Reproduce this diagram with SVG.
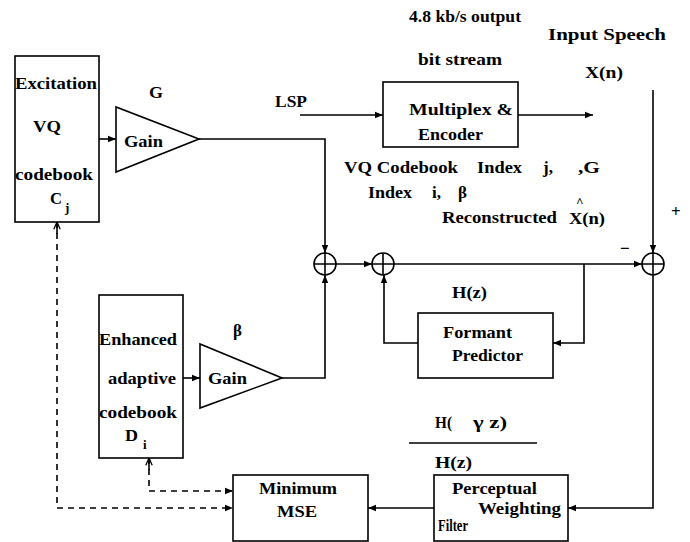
<svg xmlns="http://www.w3.org/2000/svg" width="690" height="542" viewBox="0 0 690 542">
<style>
text{font-family:"Liberation Serif","Times New Roman",serif;font-weight:bold;font-size:17px;fill:#000}
.sub{font-size:13px}
.hat{font-size:13px}
.box{fill:#fff;stroke:#000;stroke-width:1.6}
.ln{fill:none;stroke:#000;stroke-width:1.6}
.dash{fill:none;stroke:#000;stroke-width:1.6;stroke-dasharray:6,5}
</style>
<defs>
<marker id="arr" viewBox="0 0 10 10" refX="10" refY="5" markerWidth="8" markerHeight="8" markerUnits="userSpaceOnUse" orient="auto">
<path d="M0,1 L10,5 L0,9 z" fill="#000"/>
</marker>
<marker id="open" viewBox="0 0 10 10" refX="10" refY="5" markerWidth="8" markerHeight="8" markerUnits="userSpaceOnUse" orient="auto">
<path d="M1,1 L10,5 L1,9" fill="none" stroke="#000" stroke-width="1.6"/>
</marker>
</defs>
<rect width="690" height="542" fill="#fff"/>

<g id="connectors">
<line class="ln" x1="99" y1="139" x2="116" y2="139" marker-end="url(#arr)"/>
<polyline class="ln" points="199,139 325,139 325,253" marker-end="url(#arr)"/>
<line class="ln" x1="300" y1="115" x2="383" y2="115" marker-end="url(#arr)"/>
<line class="ln" x1="518" y1="115" x2="593" y2="115" marker-end="url(#arr)"/>
<line class="ln" x1="653" y1="90" x2="653" y2="253" marker-end="url(#arr)"/>
<line class="ln" x1="336" y1="264" x2="372" y2="264" marker-end="url(#arr)"/>
<line class="ln" x1="394" y1="264" x2="642" y2="264" marker-end="url(#arr)"/>
<polyline class="ln" points="584,264 584,343 553,343" marker-end="url(#arr)"/>
<polyline class="ln" points="418,343 384,343 384,275" marker-end="url(#arr)"/>
<line class="ln" x1="183" y1="378" x2="200" y2="378" marker-end="url(#arr)"/>
<polyline class="ln" points="282,378 325,378 325,275" marker-end="url(#arr)"/>
<polyline class="ln" points="653,275 653,508 568,508" marker-end="url(#arr)"/>
<line class="ln" x1="434" y1="508" x2="368" y2="508" marker-end="url(#arr)"/>
<polyline class="dash" points="149,458 149,491 233,491" marker-end="url(#arr)"/>
<line class="ln" x1="149" y1="470" x2="149" y2="458" marker-end="url(#open)"/>
<polyline class="dash" points="57,222 57,508 233,508" marker-end="url(#arr)"/>
<line class="ln" x1="57" y1="234" x2="57" y2="222" marker-end="url(#open)"/>
<line class="ln" x1="409" y1="443" x2="537" y2="443"/>
</g>

<g id="labels">
<text x="409" y="22" textLength="112" lengthAdjust="spacingAndGlyphs">4.8 kb/s output</text>
<text x="418" y="65" textLength="84" lengthAdjust="spacingAndGlyphs">bit  stream</text>
<text x="548" y="40" textLength="118" lengthAdjust="spacingAndGlyphs">Input Speech</text>
<text x="585" y="78" textLength="38" lengthAdjust="spacingAndGlyphs">X(n)</text>
<text x="149" y="98" textLength="14" lengthAdjust="spacingAndGlyphs">G</text>
<text x="275" y="107" textLength="32" lengthAdjust="spacingAndGlyphs">LSP</text>
<text x="344" y="173" textLength="114" lengthAdjust="spacingAndGlyphs">VQ Codebook</text>
<text x="477" y="173" textLength="45" lengthAdjust="spacingAndGlyphs">Index</text>
<text x="543" y="173">j,</text>
<text x="578" y="173" textLength="22" lengthAdjust="spacingAndGlyphs">,G</text>
<text x="368" y="198" textLength="44" lengthAdjust="spacingAndGlyphs">Index</text>
<text x="432" y="198">i,</text>
<text x="458" y="198">β</text>
<text class="hat" x="576" y="206">^</text>
<text x="442" y="223" textLength="115" lengthAdjust="spacingAndGlyphs">Reconstructed</text>
<text x="569" y="224" textLength="36" lengthAdjust="spacingAndGlyphs">X(n)</text>
<text x="671" y="217">+</text>
<text x="620" y="254">−</text>
<text x="452" y="298" textLength="35" lengthAdjust="spacingAndGlyphs">H(z)</text>
<text x="233" y="336">β</text>
<text x="435" y="428" textLength="17" lengthAdjust="spacingAndGlyphs">H(</text>
<text x="473" y="428" textLength="34" lengthAdjust="spacingAndGlyphs">γ z)</text>
<text x="435" y="468" textLength="37" lengthAdjust="spacingAndGlyphs">H(z)</text>
</g>

<g id="excitation">
<rect class="box" x="15" y="56" width="84" height="166"/>
<text x="15" y="89" textLength="82" lengthAdjust="spacingAndGlyphs">Excitation</text>
<text x="33" y="132" textLength="28" lengthAdjust="spacingAndGlyphs">VQ</text>
<text x="15" y="180" textLength="78" lengthAdjust="spacingAndGlyphs">codebook</text>
<text x="50" y="204" textLength="12" lengthAdjust="spacingAndGlyphs">C</text>
<text class="sub" x="65" y="212">j</text>
</g>

<g id="gain1">
<polygon class="box" points="116,107 116,172 199,139"/>
<text x="124" y="147" textLength="39" lengthAdjust="spacingAndGlyphs">Gain</text>
</g>

<g id="multiplex">
<rect class="box" x="383" y="82" width="135" height="65"/>
<text x="409" y="115" textLength="104" lengthAdjust="spacingAndGlyphs">Multiplex  &amp;</text>
<text x="418" y="140" textLength="65" lengthAdjust="spacingAndGlyphs">Encoder</text>
</g>

<g id="sum1">
<circle class="ln" cx="325" cy="264" r="11"/>
<path class="ln" d="M314,264 H336 M325,253 V275"/>
</g>
<g id="sum2">
<circle class="ln" cx="383" cy="264" r="11"/>
<path class="ln" d="M372,264 H394 M383,253 V275"/>
</g>
<g id="sum3">
<circle class="ln" cx="653" cy="264" r="11"/>
<path class="ln" d="M642,264 H664 M653,253 V275"/>
</g>

<g id="formant">
<rect class="box" x="418" y="313" width="135" height="65"/>
<text x="443" y="338" textLength="69" lengthAdjust="spacingAndGlyphs">Formant</text>
<text x="452" y="361" textLength="71" lengthAdjust="spacingAndGlyphs">Predictor</text>
</g>

<g id="enhanced">
<rect class="box" x="99" y="295" width="84" height="163"/>
<text x="99" y="345" textLength="78" lengthAdjust="spacingAndGlyphs">Enhanced</text>
<text x="108" y="384" textLength="68" lengthAdjust="spacingAndGlyphs">adaptive</text>
<text x="99" y="418" textLength="78" lengthAdjust="spacingAndGlyphs">codebook</text>
<text x="125" y="441" textLength="13" lengthAdjust="spacingAndGlyphs">D</text>
<text class="sub" x="143" y="449">i</text>
</g>

<g id="gain2">
<polygon class="box" points="200,344 200,408 282,378"/>
<text x="208" y="384" textLength="39" lengthAdjust="spacingAndGlyphs">Gain</text>
</g>

<g id="minmse">
<rect class="box" x="233" y="475" width="135" height="66"/>
<text x="259" y="494" textLength="78" lengthAdjust="spacingAndGlyphs">Minimum</text>
<text x="277" y="517" textLength="40" lengthAdjust="spacingAndGlyphs">MSE</text>
</g>

<g id="perceptual">
<rect class="box" x="434" y="475" width="134" height="66"/>
<text x="452" y="494" textLength="85" lengthAdjust="spacingAndGlyphs">Perceptual</text>
<text x="478" y="514" textLength="83" lengthAdjust="spacingAndGlyphs">Weighting</text>
<text x="438" y="531" textLength="30" lengthAdjust="spacingAndGlyphs">Filter</text>
</g>
</svg>
